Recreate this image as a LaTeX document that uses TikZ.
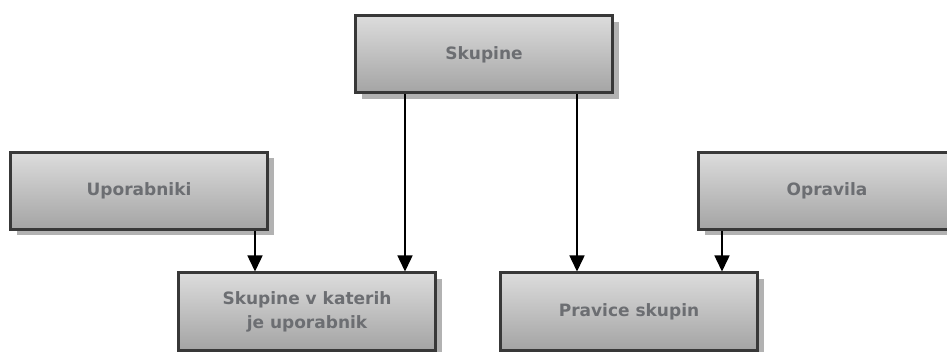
\documentclass[tikz,border=0pt]{standalone}
\usepackage{fontspec}
\setmainfont{DejaVu Sans}
\usetikzlibrary{shadows,arrows.meta}
\definecolor{boxtop}{HTML}{DCDCDC}
\definecolor{boxbot}{HTML}{A4A4A4}
\definecolor{boxline}{HTML}{383838}
\definecolor{boxshadow}{HTML}{B2B2B2}
\definecolor{labeltext}{HTML}{6C6E72}
\begin{document}
\begin{tikzpicture}[x=1pt,y=-1pt,
  entity/.style={rectangle, draw=boxline, line width=3pt,
    top color=boxtop, bottom color=boxbot,
    minimum width=257pt, minimum height=77pt, inner sep=0pt,
    align=center, text=labeltext,
    font=\fontsize{17}{24}\selectfont\bfseries,
    drop shadow={shadow xshift=6pt, shadow yshift=-6pt, fill=boxshadow, opacity=1}},
  link/.style={draw=black, line width=1.5pt,
    -{Triangle[width=15pt,length=16pt]}}]
\useasboundingbox[fill=white] (0,0) rectangle (947,352);
\begin{scope}
\clip (0,0) rectangle (947,352);
\node[entity] (skup) at (484,54.5) {Skupine};
\node[entity] (upo) at (139,191) {Uporabniki};
\node[entity] (opr) at (827,191) {Opravila};
\node[entity] (kv) at (307,311.5) {Skupine v katerih\\je uporabnik};
\node[entity] (ps) at (629,311.5) {Pravice skupin};
\coordinate (c1) at (255,0);
\coordinate (c2) at (405,0);
\coordinate (c3) at (577,0);
\coordinate (c4) at (722,0);
\draw[link] (upo.south -| c1) -- (kv.north -| c1);
\draw[link] (skup.south -| c2) -- (kv.north -| c2);
\draw[link] (skup.south -| c3) -- (ps.north -| c3);
\draw[link] (opr.south -| c4) -- (ps.north -| c4);
\end{scope}
\end{tikzpicture}
\end{document}
